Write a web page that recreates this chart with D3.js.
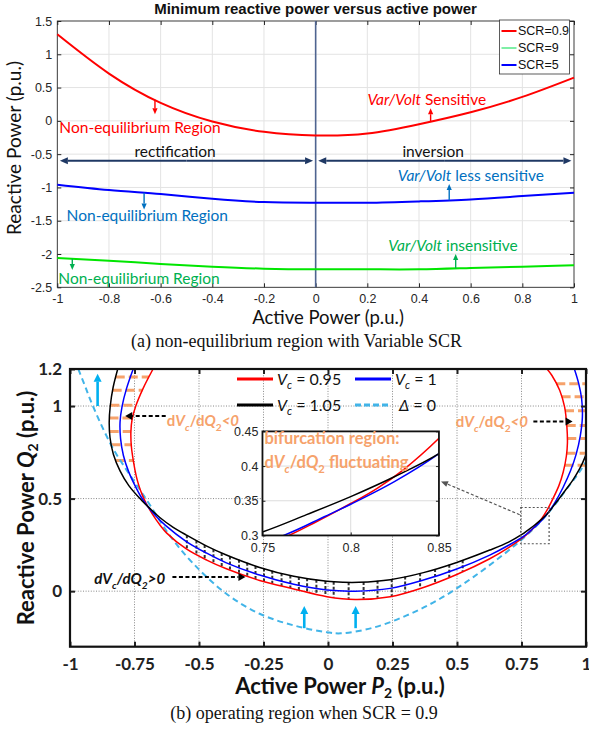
<!DOCTYPE html>
<html>
<head>
<meta charset="utf-8">
<script src="https://cdn.jsdelivr.net/npm/d3@7"></script>
<style>
  body { margin: 0; background: #fff; }
  svg { display: block; }
</style>
</head>
<body>
<svg id="fig" width="589" height="731"></svg>
<script>
// ===================== Panel (a) data =====================
const activeP   = [-1, -0.8, -0.6, -0.4, -0.2, 0, 0.2, 0.4, 0.6, 0.8, 1];
const qMinScr09 = [1.3, 0.71, 0.27, -0.01, -0.165, -0.22, -0.19, -0.05, 0.13, 0.36, 0.65];
const qMinScr9  = [-2.06, -2.10, -2.15, -2.19, -2.22, -2.23, -2.23, -2.23, -2.21, -2.19, -2.17];
const qMinScr5  = [-0.96, -1.04, -1.10, -1.17, -1.22, -1.23, -1.23, -1.21, -1.18, -1.13, -1.08];
const scrNames  = ["SCR=0.9", "SCR=9", "SCR=5"];
const tickPA    = [-1, -0.8, -0.6, -0.4, -0.2, 0, 0.2, 0.4, 0.6, 0.8, 1];
const tickQA    = [-2.5, -2, -1.5, -1, -0.5, 0, 0.5, 1, 1.5];

// ===================== Panel (b) data =====================
// boundary curves [P2, Q2] for each converter voltage
const vc095 = [[-0.678,1.2],[-0.717,1.094],[-0.745,1.0],[-0.759,0.93],[-0.764,0.86],[-0.762,0.78],[-0.754,0.7],
  [-0.743,0.62],[-0.733,0.57],[-0.72,0.52],[-0.705,0.475],[-0.68,0.415],[-0.65,0.355],[-0.626,0.315],[-0.549,0.228],
  [-0.47,0.168],[-0.394,0.121],[-0.265,0.058],[-0.133,0.012],[-0.004,-0.03],[0.105,-0.045],[0.241,-0.03],[0.37,0.02],
  [0.499,0.09],[0.627,0.175],[0.7,0.235],[0.765,0.3],[0.78,0.319],[0.8,0.346],[0.815,0.368],[0.83,0.395],[0.85,0.44],
  [0.872,0.5],[0.895,0.57],[0.912,0.645],[0.924,0.73],[0.928,0.8],[0.926,0.886],[0.917,0.995],[0.898,1.085],
  [0.868,1.165],[0.849,1.2]];
const vc100 = [[-0.755,1.2],[-0.781,1.094],[-0.798,1.0],[-0.806,0.914],[-0.804,0.824],[-0.793,0.733],[-0.772,0.643],
  [-0.748,0.57],[-0.725,0.51],[-0.7,0.46],[-0.67,0.41],[-0.63,0.355],[-0.549,0.268],[-0.47,0.205],[-0.394,0.153],
  [-0.265,0.087],[-0.133,0.037],[-0.004,0.006],[0.105,0.0],[0.241,0.015],[0.37,0.06],[0.499,0.12],[0.627,0.195],
  [0.7,0.248],[0.762,0.3],[0.785,0.327],[0.8,0.345],[0.825,0.378],[0.85,0.418],[0.88,0.48],[0.911,0.56],[0.94,0.65],
  [0.962,0.74],[0.978,0.84],[0.986,0.94],[0.983,1.04],[0.972,1.12],[0.955,1.2]];
const vc105 = [[-0.815,1.2],[-0.833,1.1],[-0.844,1.0],[-0.848,0.914],[-0.845,0.83],[-0.832,0.74],[-0.806,0.65],
  [-0.772,0.57],[-0.722,0.49],[-0.685,0.44],[-0.652,0.398],[-0.6,0.345],[-0.549,0.303],[-0.47,0.243],[-0.394,0.195],
  [-0.265,0.128],[-0.133,0.08],[-0.004,0.053],[0.06,0.048],[0.12,0.048],[0.241,0.062],[0.37,0.1],[0.499,0.155],
  [0.627,0.222],[0.7,0.265],[0.75,0.305],[0.775,0.33],[0.8,0.356],[0.825,0.385],[0.85,0.418],[0.885,0.48],
  [0.92,0.545],[0.949,0.6],[0.975,0.66],[0.995,0.72],[1.01,0.79],[1.02,0.87]];
const deltaZero = [[-0.968,1.2],[-0.945,1.12],[-0.923,1.04],[-0.884,0.914],[-0.833,0.77],[-0.781,0.655],[-0.735,0.56],
  [-0.69,0.465],[-0.613,0.3],[-0.523,0.15],[-0.394,-0.014],[-0.265,-0.122],[-0.133,-0.185],[-0.004,-0.222],[0.05,-0.228],
  [0.176,-0.197],[0.305,-0.131],[0.434,-0.041],[0.563,0.076],[0.692,0.211],[0.76,0.29],[0.82,0.37],[0.87,0.45],
  [0.924,0.55],[0.975,0.645],[1.01,0.72]];
const tickPB  = [-1, -0.75, -0.5, -0.25, 0, 0.25, 0.5, 0.75, 1];
const tickQB  = [0, 0.5, 1, 1.2];
const gridQB  = [0, 0.5, 1];
const hatchQLeft  = [1.157, 1.085, 1.004, 0.935, 0.863, 0.791, 0.706];
const hatchQRight = [1.12, 1.05, 0.975, 0.895, 0.825, 0.745, 0.68];
const hatchPBottom = [-0.547,-0.51,-0.478,-0.444,-0.412,-0.38,-0.345,-0.313,-0.281,-0.248,-0.216,-0.18,-0.146,
  -0.113,-0.081,-0.045,-0.01,0.022,0.08,0.138,0.192,0.247,0.299,0.357,0.415,0.47,0.522];
const insetTickP = [0.75, 0.8, 0.85];
const insetTickQ = [0.3, 0.35, 0.4, 0.45];

// ===================== helpers =====================
const svg = d3.select("#fig");
const SANS = "'Liberation Sans', Arial, sans-serif";
const CAL  = "Lato, 'Open Sans', sans-serif";
const SERIF = "'Liberation Serif', 'Times New Roman', serif";
const RED = "#ff0000", BLUE = "#0000ff", CYAN = "#41b4e8", ORANGE = "#f6a26b";

function arrow(g, x1, y1, x2, y2, o = {}) {
  const color = o.color || "#000", width = o.width || 1.5, head = o.head || 7, hw = o.hw || 3.5;
  const dx = x2 - x1, dy = y2 - y1, L = Math.hypot(dx, dy), ux = dx / L, uy = dy / L;
  const bx = x2 - ux * head, by = y2 - uy * head;
  g.append("line").attr("x1", x1).attr("y1", y1).attr("x2", bx).attr("y2", by)
    .attr("stroke", color).attr("stroke-width", width).attr("stroke-dasharray", o.dash || null);
  g.append("path").attr("d", `M${x2},${y2}L${bx - uy * hw},${by + ux * hw}L${bx + uy * hw},${by - ux * hw}Z`)
    .attr("fill", color);
}
function interp(xs, ys, x) {
  for (let i = 0; i < xs.length - 1; i++) {
    if ((x - xs[i]) * (x - xs[i + 1]) <= 0) {
      const t = (x - xs[i]) / (xs[i + 1] - xs[i]);
      return ys[i] + t * (ys[i + 1] - ys[i]);
    }
  }
  return NaN;
}
// Q on the lower arc of a boundary at a given P
function qLower(curve, p) {
  const pts = curve.filter(d => d[1] < 0.5);
  return interp(pts.map(d => d[0]), pts.map(d => d[1]), p);
}
// P on the left / right arc at a given Q
function pSide(curve, q, side) {
  const pts = curve.filter(d => side < 0 ? (d[0] < 0 && d[1] >= 0.5) : (d[0] > 0 && d[1] >= 0.4));
  return interp(pts.map(d => d[1]), pts.map(d => d[0]), q);
}
// text like dVc/dQ2<0 with italic symbols and subscripts
function dvdq(t, rel, allItalic, fs) {
  const sub = fs * 0.68, sh = fs * 0.28;
  const st = allItalic ? "italic" : "normal";
  t.append("tspan").attr("font-style", st).text("d");
  t.append("tspan").attr("font-style", "italic").text("V");
  t.append("tspan").attr("font-style", "italic").attr("font-size", sub).attr("dy", sh).text("c");
  t.append("tspan").attr("font-style", st).attr("dy", -sh).text("/d");
  t.append("tspan").attr("font-style", "italic").text("Q");
  t.append("tspan").attr("font-style", st).attr("font-size", sub).attr("dy", sh).text("2");
  t.append("tspan").attr("font-style", "italic").attr("dy", -sh).text(rel);
}

// ===================== Panel (a) =====================
const xA = d3.scaleLinear().domain([-1, 1]).range([57.3, 574]);
const yA = d3.scaleLinear().domain([-2.5, 1.5]).range([287.3, 21]);
const gA = svg.append("g");

gA.append("g").selectAll("line").data(tickPA.slice(1, -1)).join("line")
  .attr("x1", d => xA(d)).attr("x2", d => xA(d)).attr("y1", yA(-2.5)).attr("y2", yA(1.5))
  .attr("stroke", "#e3e3e3").attr("stroke-width", 1);
gA.append("g").selectAll("line").data(tickQA.slice(1, -1)).join("line")
  .attr("y1", d => yA(d)).attr("y2", d => yA(d)).attr("x1", xA(-1)).attr("x2", xA(1))
  .attr("stroke", "#e3e3e3").attr("stroke-width", 1);

function styleAxis(g, fs, font, color, weight) {
  g.select(".domain").remove();
  g.selectAll(".tick line").attr("stroke", color);
  g.selectAll(".tick text").attr("font-family", font).attr("font-size", fs).attr("fill", color)
    .attr("font-weight", weight || "normal");
}
const axColA = "#262626";
gA.append("g").attr("transform", `translate(0,${yA(-2.5)})`)
  .call(d3.axisBottom(xA).tickValues(tickPA).tickSizeInner(-4).tickSizeOuter(0).tickPadding(7).tickFormat(d => String(d)))
  .call(g => styleAxis(g, 12.5, SANS, axColA));
gA.append("g").attr("transform", `translate(0,${yA(1.5)})`)
  .call(d3.axisTop(xA).tickValues(tickPA).tickSizeInner(-4).tickSizeOuter(0).tickFormat(""))
  .call(g => styleAxis(g, 12.5, SANS, axColA));
gA.append("g").attr("transform", `translate(${xA(-1)},0)`)
  .call(d3.axisLeft(yA).tickValues(tickQA).tickSizeInner(-4).tickSizeOuter(0).tickPadding(5).tickFormat(d => String(d)))
  .call(g => styleAxis(g, 12.5, SANS, axColA));
gA.append("g").attr("transform", `translate(${xA(1)},0)`)
  .call(d3.axisRight(yA).tickValues(tickQA).tickSizeInner(-4).tickSizeOuter(0).tickFormat(""))
  .call(g => styleAxis(g, 12.5, SANS, axColA));
gA.append("rect").attr("x", xA(-1)).attr("y", yA(1.5)).attr("width", xA(1) - xA(-1)).attr("height", yA(-2.5) - yA(1.5))
  .attr("fill", "none").attr("stroke", axColA).attr("stroke-width", 0.9);

// separator between rectification and inversion
gA.append("line").attr("x1", xA(0)).attr("x2", xA(0)).attr("y1", yA(1.5)).attr("y2", yA(-2.5))
  .attr("stroke", "#4f6490").attr("stroke-width", 1.6);

const lineA = q => d3.line().x((d, i) => xA(activeP[i])).y(d => yA(d)).curve(d3.curveNatural)(q);
const seriesA = [
  { name: scrNames[0], q: qMinScr09, color: RED, legend: RED },
  { name: scrNames[1], q: qMinScr9, color: "#00e600", legend: "#7fefa6" },
  { name: scrNames[2], q: qMinScr5, color: BLUE, legend: BLUE }
];
gA.append("g").selectAll("path").data(seriesA).join("path")
  .attr("d", d => lineA(d.q)).attr("fill", "none").attr("stroke", d => d.color).attr("stroke-width", 2);

// rectification / inversion arrows
const navy = "#1f3864";
const yArr = yA(-0.6);
[[-0.99, -0.01], [0.01, 0.99]].forEach(([a, b]) => {
  const xm = (xA(a) + xA(b)) / 2;
  arrow(gA, xm, yArr, xA(a), yArr, { color: navy, width: 2, head: 8, hw: 3.5 });
  arrow(gA, xm, yArr, xA(b), yArr, { color: navy, width: 2, head: 8, hw: 3.5 });
});
gA.append("text").attr("x", xA(-0.544)).attr("y", yA(-0.545)).attr("text-anchor", "middle")
  .attr("font-family", CAL).attr("font-size", 15.5).attr("fill", "#111").text("rectification");
gA.append("text").attr("x", xA(0.455)).attr("y", yA(-0.545)).attr("text-anchor", "middle")
  .attr("font-family", CAL).attr("font-size", 15.5).attr("fill", "#111").text("inversion");

// region annotations
const annA = [
  { q: qMinScr09, color: RED, txt: "Non-equilibrium Region", tx: -0.992, ty: -0.185, anchor: "start", ap: -0.622, aq: 0.1 },
  { q: qMinScr5, color: "#0070c0", txt: "Non-equilibrium Region", tx: -0.964, ty: -1.5, anchor: "start", ap: -0.664, aq: -1.33 },
  { q: qMinScr9, color: "#00b050", txt: "Non-equilibrium Region", tx: -0.996, ty: -2.45, anchor: "start", ap: -0.942, aq: -2.24 },
  { q: qMinScr09, color: RED, it: "Var/Volt", txt: " Sensitive", tx: 0.43, ty: 0.235, anchor: "middle", ap: 0.445, aq: 0.19 },
  { q: qMinScr5, color: "#0070c0", it: "Var/Volt", txt: " less sensitive", tx: 0.601, ty: -0.91, anchor: "middle", ap: 0.517, aq: -0.95 },
  { q: qMinScr9, color: "#00b050", it: "Var/Volt", txt: " insensitive", tx: 0.532, ty: -1.96, anchor: "middle", ap: 0.542, aq: -2.0 }
];
annA.forEach(a => {
  const t = gA.append("text").attr("x", xA(a.tx)).attr("y", yA(a.ty)).attr("text-anchor", a.anchor)
    .attr("font-family", CAL).attr("font-size", 15.5).attr("fill", a.color);
  if (a.it) t.append("tspan").attr("font-style", "italic").text(a.it);
  t.append("tspan").text(a.txt);
  const q0 = interp(activeP, a.q, a.ap);
  arrow(gA, xA(a.ap), yA(q0), xA(a.ap), yA(a.aq), { color: a.color, width: 1.4, head: 6, hw: 2.6 });
});

// legend (a)
const legA = gA.append("g").attr("transform", "translate(499.5,20)");
legA.append("rect").attr("width", 70).attr("height", 54).attr("fill", "#fff").attr("stroke", "#333").attr("stroke-width", 0.8);
seriesA.forEach((s, i) => {
  const y = 11 + i * 17;
  legA.append("line").attr("x1", 2).attr("x2", 17).attr("y1", y).attr("y2", y).attr("stroke", s.legend).attr("stroke-width", 2);
  legA.append("text").attr("x", 18.5).attr("y", y + 4.3).attr("font-family", SANS).attr("font-size", 12.5)
    .attr("fill", "#111").text(s.name);
});

// titles and labels (a)
gA.append("text").attr("x", 315.5).attr("y", 13.5).attr("text-anchor", "middle").attr("font-family", SANS)
  .attr("font-size", 15).attr("font-weight", "bold").attr("fill", "#111").text("Minimum reactive power versus active power");
gA.append("text").attr("transform", "translate(21,148) rotate(-90)").attr("text-anchor", "middle")
  .attr("font-family", CAL).attr("font-size", 19).attr("fill", "#111").text("Reactive Power (p.u.)");
gA.append("text").attr("x", 328).attr("y", 324).attr("text-anchor", "middle")
  .attr("font-family", CAL).attr("font-size", 18.5).attr("fill", "#111").text("Active Power (p.u.)");
svg.append("text").attr("x", 296.5).attr("y", 347).attr("text-anchor", "middle").attr("font-family", SERIF)
  .attr("font-size", 18).attr("fill", "#111").text("(a) non-equilibrium region with Variable SCR");

// ===================== Panel (b) =====================
const xB = d3.scaleLinear().domain([-1, 1]).range([70, 586]);
const yB = d3.scaleLinear().domain([-0.3, 1.2]).range([646.7, 369]);
const gB = svg.append("g");
const defs = svg.append("defs");
defs.append("clipPath").attr("id", "clipB").append("rect")
  .attr("x", xB(-1)).attr("y", yB(1.2)).attr("width", xB(1) - xB(-1)).attr("height", yB(-0.3) - yB(1.2));

// dotted grid
gB.append("g").selectAll("line").data(tickPB.slice(1, -1)).join("line")
  .attr("x1", d => xB(d)).attr("x2", d => xB(d)).attr("y1", yB(-0.3)).attr("y2", yB(1.2))
  .attr("stroke", "#888").attr("stroke-width", 1).attr("stroke-dasharray", "1,1.6");
gB.append("g").selectAll("line").data(gridQB).join("line")
  .attr("y1", d => yB(d)).attr("y2", d => yB(d)).attr("x1", xB(-1)).attr("x2", xB(1))
  .attr("stroke", "#888").attr("stroke-width", 1).attr("stroke-dasharray", "1,1.6");

const plotB = gB.append("g").attr("clip-path", "url(#clipB)");
const lineB = d3.line().x(d => xB(d[0])).y(d => yB(d[1])).curve(d3.curveCatmullRom.alpha(0.5));

// hatching: orange between boundaries on both flanks
const hatchL = hatchQLeft.map(q => ({ q, p0: pSide(vc105, q, -1), p1: pSide(vc095, q, -1) }));
const hatchR = hatchQRight.map(q => ({ q, p0: pSide(vc095, q, 1), p1: 1.0 }));
plotB.append("g").selectAll("line").data(hatchL.concat(hatchR)).join("line")
  .attr("x1", d => xB(d.p0)).attr("x2", d => xB(d.p1)).attr("y1", d => yB(d.q)).attr("y2", d => yB(d.q))
  .attr("stroke", ORANGE).attr("stroke-width", 3).attr("stroke-dasharray", "9,4");
// hatching: dark ticks across the lower arc
plotB.append("g").selectAll("line").data(hatchPBottom).join("line")
  .attr("x1", d => xB(d)).attr("x2", d => xB(d)).attr("y1", d => yB(qLower(vc105, d))).attr("y2", d => yB(qLower(vc095, d)))
  .attr("stroke", "#333").attr("stroke-width", 2).attr("stroke-dasharray", "3,2");

const seriesB = [
  { data: deltaZero, color: CYAN, w: 2, dash: "6,4" },
  { data: vc095, color: RED, w: 1.5 },
  { data: vc100, color: BLUE, w: 1.5 },
  { data: vc105, color: "#000", w: 1.5 }
];
plotB.append("g").selectAll("path").data(seriesB).join("path")
  .attr("d", d => lineB(d.data)).attr("fill", "none").attr("stroke", d => d.color)
  .attr("stroke-width", d => d.w).attr("stroke-dasharray", d => d.dash || null);

// frame and ticks
const axColB = "#111";
gB.append("g").attr("transform", `translate(0,${yB(-0.3)})`)
  .call(d3.axisBottom(xB).tickValues(tickPB).tickSizeInner(-5).tickSizeOuter(0).tickPadding(11).tickFormat(d => String(d)))
  .call(g => styleAxis(g, 17, CAL, "#222", "bold"));
gB.append("g").attr("transform", `translate(0,${yB(1.2)})`)
  .call(d3.axisTop(xB).tickValues(tickPB).tickSizeInner(-5).tickSizeOuter(0).tickFormat(""))
  .call(g => styleAxis(g, 17, CAL, "#222"));
gB.append("g").attr("transform", `translate(${xB(-1)},0)`)
  .call(d3.axisLeft(yB).tickValues(tickQB).tickSizeInner(-5).tickSizeOuter(0).tickPadding(8).tickFormat(d => String(d)))
  .call(g => styleAxis(g, 17, CAL, "#222", "bold"));
gB.append("g").attr("transform", `translate(${xB(1)},0)`)
  .call(d3.axisRight(yB).tickValues(gridQB).tickSizeInner(-5).tickSizeOuter(0).tickFormat(""))
  .call(g => styleAxis(g, 17, CAL, "#222"));
gB.selectAll(".tick line").attr("stroke-width", 2);
gB.append("rect").attr("x", xB(-1)).attr("y", yB(1.2)).attr("width", xB(1) - xB(-1)).attr("height", yB(-0.3) - yB(1.2))
  .attr("fill", "none").attr("stroke", axColB).attr("stroke-width", 2.2);

// cyan arrows pointing into the feasible region
[[-0.893, 1.0, 1.175], [-0.092, -0.2, -0.08], [0.107, -0.2, -0.08]].forEach(([p, q0, q1]) =>
  arrow(gB, xB(p), yB(q0), xB(p), yB(q1), { color: "#00b0f0", width: 2.6, head: 8, hw: 4 }));

// sensitivity annotations
const ann1 = gB.append("text").attr("x", xB(-0.625)).attr("y", yB(0.89)).attr("font-family", CAL)
  .attr("font-size", 15).attr("font-weight", "bold").attr("fill", ORANGE);
dvdq(ann1, "<0", false, 15);
arrow(gB, xB(-0.629), yB(0.946), xB(-0.786), yB(0.946), { color: "#000", width: 2, head: 7, hw: 4, dash: "4,2.5" });
const ann2 = gB.append("text").attr("x", xB(0.495)).attr("y", yB(0.885)).attr("font-family", CAL)
  .attr("font-size", 15).attr("font-weight", "bold").attr("fill", ORANGE);
dvdq(ann2, "<0", false, 15);
arrow(gB, xB(0.796), yB(0.917), xB(0.948), yB(0.917), { color: "#000", width: 2, head: 7, hw: 4, dash: "4,2.5" });
const ann3 = gB.append("text").attr("x", xB(-0.906)).attr("y", yB(0.036)).attr("font-family", CAL)
  .attr("font-size", 15).attr("font-weight", "bold").attr("fill", "#111");
dvdq(ann3, ">0", true, 15);
arrow(gB, xB(-0.603), yB(0.076), xB(-0.32), yB(0.076), { color: "#000", width: 2, head: 7, hw: 4, dash: "4,2.5" });

// legend (b)
const legB = gB.append("g");
const legItems = [
  { x: 237, y: 379, color: RED, sub: "0.95" },
  { x: 237, y: 405, color: "#000", sub: "1.05" },
  { x: 355, y: 379, color: BLUE, sub: "1" },
  { x: 355, y: 405, color: CYAN, dash: "6,3", delta: true }
];
legItems.forEach(it => {
  legB.append("line").attr("x1", it.x).attr("x2", it.x + 36).attr("y1", it.y).attr("y2", it.y)
    .attr("stroke", it.color).attr("stroke-width", 3).attr("stroke-dasharray", it.dash || null);
  const t = legB.append("text").attr("x", it.x + (it.delta ? 44 : 40)).attr("y", it.y + 5.5)
    .attr("font-family", CAL).attr("font-size", 16).attr("fill", "#111");
  if (it.delta) {
    t.append("tspan").attr("font-style", "italic").text("Δ");
    t.append("tspan").text(" = 0");
  } else {
    t.append("tspan").attr("font-style", "italic").text("V");
    t.append("tspan").attr("font-style", "italic").attr("font-size", 11).attr("dy", 4).text("c");
    t.append("tspan").attr("dy", -4).text(" = " + it.sub);
  }
});

// zoom window and pointer to the inset
gB.append("rect").attr("x", xB(0.747)).attr("y", yB(0.452)).attr("width", xB(0.857) - xB(0.747))
  .attr("height", yB(0.256) - yB(0.452)).attr("fill", "none").attr("stroke", "#555").attr("stroke-width", 1.2)
  .attr("stroke-dasharray", "2,2");
arrow(gB, xB(0.743), yB(0.413), xB(0.438), yB(0.593), { color: "#555", width: 1.2, head: 7, hw: 3, dash: "3,2" });

// inset: zoom of the bifurcation region
const ix0 = xB(-0.254), ix1 = xB(0.43), iy0 = yB(0.863), iy1 = yB(0.301);
const xI = d3.scaleLinear().domain([0.75, 0.85]).range([ix0, ix1]);
const yI = d3.scaleLinear().domain([0.3, 0.45]).range([iy1, iy0]);
const gI = svg.append("g");
defs.append("clipPath").attr("id", "clipI").append("rect").attr("x", ix0).attr("y", iy0).attr("width", ix1 - ix0).attr("height", iy1 - iy0);
gI.append("rect").attr("x", ix0).attr("y", iy0).attr("width", ix1 - ix0).attr("height", iy1 - iy0).attr("fill", "#fff");
gI.append("g").selectAll("line").data([0.8]).join("line")
  .attr("x1", d => xI(d)).attr("x2", d => xI(d)).attr("y1", iy0).attr("y2", iy1).attr("stroke", "#dcdcdc");
gI.append("g").selectAll("line").data([0.35, 0.4]).join("line")
  .attr("y1", d => yI(d)).attr("y2", d => yI(d)).attr("x1", ix0).attr("x2", ix1).attr("stroke", "#dcdcdc");
const lineI = d3.line().x(d => xI(d[0])).y(d => yI(d[1])).curve(d3.curveCatmullRom.alpha(0.5));
gI.append("g").attr("clip-path", "url(#clipI)").selectAll("path").data(seriesB.slice(1)).join("path")
  .attr("d", d => lineI(d.data)).attr("fill", "none").attr("stroke", d => d.color).attr("stroke-width", 1.5);
gI.append("g").attr("transform", `translate(0,${iy1})`)
  .call(d3.axisBottom(xI).tickValues(insetTickP).tickSizeInner(-3).tickSizeOuter(0).tickPadding(8).tickFormat(d => String(d)))
  .call(g => styleAxis(g, 12.5, SANS, "#262626"));
gI.append("g").attr("transform", `translate(${ix0},0)`)
  .call(d3.axisLeft(yI).tickValues(insetTickQ).tickSizeInner(-3).tickSizeOuter(0).tickPadding(4).tickFormat(d => String(d)))
  .call(g => styleAxis(g, 12.5, SANS, "#262626"));
gI.append("g").attr("transform", `translate(${ix1},0)`)
  .call(d3.axisRight(yI).tickValues(insetTickQ).tickSizeInner(-3).tickSizeOuter(0).tickFormat(""))
  .call(g => styleAxis(g, 12.5, SANS, "#262626"));
gI.append("rect").attr("x", ix0).attr("y", iy0).attr("width", ix1 - ix0).attr("height", iy1 - iy0)
  .attr("fill", "none").attr("stroke", "#111").attr("stroke-width", 1.8);
gI.append("text").attr("x", ix0 + 2).attr("y", iy0 + 13).attr("font-family", CAL).attr("font-size", 16.5)
  .attr("font-weight", "bold").attr("fill", ORANGE).text("bifurcation region:");
const ann4 = gI.append("text").attr("x", ix0 + 2).attr("y", iy0 + 37).attr("font-family", CAL).attr("font-size", 16.5)
  .attr("font-weight", "bold").attr("fill", ORANGE);
dvdq(ann4, " fluctuating", false, 16.5);
ann4.select("tspan:last-child").attr("font-style", "normal");

// labels (b)
const yl = gB.append("text").attr("transform", "translate(34,508) rotate(-90)").attr("text-anchor", "middle")
  .attr("font-family", CAL).attr("font-size", 22).attr("font-weight", "bold").attr("fill", "#111");
yl.append("tspan").text("Reactive Power ");
yl.append("tspan").attr("font-style", "italic").text("Q");
yl.append("tspan").attr("font-size", 14).attr("dy", 4).text("2");
yl.append("tspan").attr("dy", -4).text(" (p.u.)");
const xl = gB.append("text").attr("x", 340).attr("y", 694).attr("text-anchor", "middle")
  .attr("font-family", CAL).attr("font-size", 22).attr("font-weight", "bold").attr("fill", "#111");
xl.append("tspan").text("Active Power ");
xl.append("tspan").attr("font-style", "italic").text("P");
xl.append("tspan").attr("font-size", 14).attr("dy", 4).text("2");
xl.append("tspan").attr("dy", -4).text(" (p.u.)");
svg.append("text").attr("x", 304).attr("y", 719).attr("text-anchor", "middle").attr("font-family", SERIF)
  .attr("font-size", 18).attr("fill", "#111").text("(b) operating region when SCR = 0.9");
</script>
</body>
</html>
